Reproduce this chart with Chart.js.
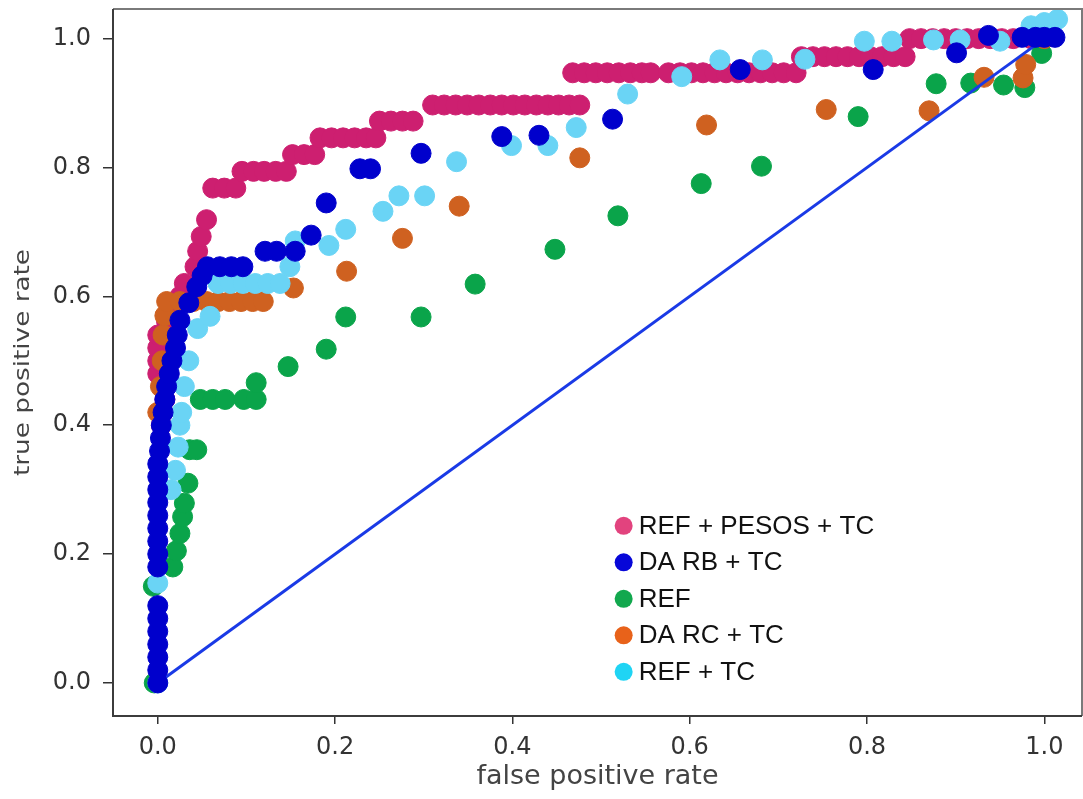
<!DOCTYPE html>
<html>
<head>
<meta charset="utf-8">
<script src="https://cdn.jsdelivr.net/npm/chart.js@4.4.1/dist/chart.umd.min.js"></script>
<style>
  body { margin: 0; background: #fff; overflow: hidden; }
</style>
</head>
<body>
<canvas id="chart" width="1083" height="799"></canvas>
<script>
const seriesNames = ["REF + PESOS + TC", "DA RB + TC", "REF", "DA RC + TC", "REF + TC"];

const refPesosTc = [
  [0.004, 0.40], [0.006, 0.42], [0.008, 0.44], [0.006, 0.46], [0.0, 0.48], [0.0, 0.50], [0.0, 0.52], [0.0, 0.54],
  [0.01, 0.56], [0.02, 0.58], [0.025, 0.60], [0.03, 0.62], [0.042, 0.646], [0.045, 0.67], [0.049, 0.693], [0.055, 0.719],
  [0.062, 0.768], [0.075, 0.768], [0.088, 0.768],
  [0.095, 0.794], [0.108, 0.794], [0.12, 0.794], [0.133, 0.794], [0.145, 0.794],
  [0.152, 0.82], [0.165, 0.82], [0.177, 0.82],
  [0.183, 0.846], [0.196, 0.846], [0.209, 0.846], [0.222, 0.846], [0.235, 0.846], [0.246, 0.846],
  [0.25, 0.872], [0.263, 0.872], [0.276, 0.872], [0.288, 0.872],
  [0.31, 0.897], [0.323, 0.897], [0.336, 0.897], [0.349, 0.897], [0.362, 0.897], [0.375, 0.897], [0.388, 0.897],
  [0.401, 0.897], [0.414, 0.897], [0.427, 0.897], [0.44, 0.897], [0.452, 0.897], [0.464, 0.897], [0.476, 0.897],
  [0.468, 0.947], [0.481, 0.947], [0.494, 0.947], [0.507, 0.947], [0.52, 0.947], [0.533, 0.947], [0.546, 0.947], [0.556, 0.947],
  [0.576, 0.947], [0.589, 0.947], [0.602, 0.947], [0.615, 0.947], [0.628, 0.947], [0.641, 0.947], [0.654, 0.947],
  [0.667, 0.947], [0.68, 0.947], [0.693, 0.947], [0.706, 0.947], [0.72, 0.947],
  [0.726, 0.972], [0.739, 0.972], [0.752, 0.972], [0.765, 0.972], [0.778, 0.972], [0.791, 0.972], [0.804, 0.972],
  [0.817, 0.972], [0.83, 0.972], [0.843, 0.972],
  [0.848, 1.0], [0.861, 1.0], [0.874, 1.0], [0.887, 1.0], [0.9, 1.0], [0.913, 1.0], [0.926, 1.0], [0.939, 1.0],
  [0.952, 1.0], [0.965, 1.0], [0.985, 1.0], [1.0, 1.0]
];

const daRbTc = [
  [0, 0], [0, 0.02], [0, 0.04], [0, 0.06], [0, 0.08], [0, 0.10], [0, 0.12],
  [0, 0.18], [0, 0.20], [0, 0.22], [0, 0.24], [0, 0.26], [0, 0.28], [0, 0.30], [0, 0.32], [0, 0.34],
  [0.002, 0.36], [0.003, 0.38], [0.004, 0.40], [0.006, 0.42], [0.008, 0.44], [0.01, 0.46], [0.013, 0.48],
  [0.016, 0.50], [0.02, 0.52], [0.022, 0.54], [0.025, 0.563], [0.035, 0.59], [0.044, 0.615], [0.05, 0.632],
  [0.056, 0.646], [0.07, 0.646], [0.083, 0.646], [0.096, 0.646],
  [0.121, 0.67], [0.134, 0.67], [0.155, 0.67], [0.173, 0.695], [0.19, 0.745], [0.228, 0.798], [0.24, 0.798],
  [0.297, 0.822], [0.388, 0.848], [0.43, 0.85], [0.513, 0.875], [0.657, 0.952], [0.807, 0.952], [0.901, 0.978],
  [0.937, 1.005], [0.975, 1.002], [0.99, 1.002], [1.0, 1.002], [1.012, 1.002]
];

const ref = [
  [-0.004, 0.0], [-0.005, 0.15], [0.017, 0.18], [0.021, 0.205], [0.025, 0.232], [0.028, 0.258], [0.03, 0.279],
  [0.034, 0.31], [0.036, 0.362], [0.044, 0.362],
  [0.048, 0.44], [0.062, 0.44], [0.076, 0.44], [0.097, 0.44], [0.111, 0.44], [0.111, 0.466],
  [0.147, 0.491], [0.19, 0.518], [0.212, 0.568], [0.297, 0.568], [0.358, 0.619], [0.448, 0.673], [0.519, 0.725],
  [0.613, 0.775], [0.681, 0.802], [0.79, 0.879], [0.878, 0.93], [0.917, 0.931], [0.954, 0.928], [0.978, 0.924],
  [0.997, 0.977], [1.0, 1.0]
];

const daRcTc = [
  [0.0, 0.42], [0.003, 0.46], [0.005, 0.50], [0.006, 0.54], [0.008, 0.57], [0.01, 0.592],
  [0.025, 0.592], [0.04, 0.592], [0.055, 0.592], [0.068, 0.592], [0.081, 0.592], [0.094, 0.592], [0.107, 0.592], [0.119, 0.592],
  [0.153, 0.613], [0.213, 0.639], [0.276, 0.69], [0.34, 0.74], [0.476, 0.815], [0.619, 0.866], [0.754, 0.89],
  [0.87, 0.888], [0.932, 0.94], [0.976, 0.939], [0.979, 0.96], [1.0, 1.0]
];

const refTc = [
  [0.0, 0.0], [0.0, 0.155], [0.015, 0.30], [0.02, 0.33], [0.023, 0.366], [0.025, 0.40], [0.027, 0.42], [0.03, 0.46],
  [0.035, 0.50], [0.045, 0.55], [0.059, 0.569],
  [0.068, 0.62], [0.082, 0.62], [0.096, 0.62], [0.11, 0.62], [0.124, 0.62], [0.138, 0.62],
  [0.149, 0.646], [0.155, 0.686], [0.193, 0.679], [0.212, 0.704], [0.254, 0.732], [0.272, 0.756], [0.301, 0.756],
  [0.337, 0.809], [0.399, 0.834], [0.44, 0.834], [0.472, 0.862], [0.53, 0.914], [0.591, 0.941], [0.634, 0.967],
  [0.682, 0.967], [0.73, 0.968], [0.797, 0.996], [0.828, 0.996], [0.875, 0.998], [0.905, 0.998], [0.95, 0.996],
  [0.985, 1.02], [1.0, 1.025], [1.015, 1.03]
];

const chanceLine = [[0, 0], [1, 1]];

const xTickValues = [0, 0.2, 0.4, 0.6, 0.8, 1.0];
const xTickLabels = ["0.0", "0.2", "0.4", "0.6", "0.8", "1.0"];
const yTickValues = [0, 0.2, 0.4, 0.6, 0.8, 1.0];
const yTickLabels = ["0.0", "0.2", "0.4", "0.6", "0.8", "1.0"];

const pointColors = ["#cd1f70", "#0000cc", "#0aa44a", "#cf6120", "#6ad4f5"];
const legendColors = ["#e2437e", "#0707d8", "#12a84e", "#e8621a", "#1fd4f4"];

const toXY = (rows) => rows.map(([x, y]) => ({ x, y }));

const scatterSet = (i, rows, order) => ({
  label: seriesNames[i],
  data: toXY(rows),
  backgroundColor: pointColors[i],
  borderColor: pointColors[i],
  borderWidth: 1,
  pointRadius: 10,
  order,
});

const extrasPlugin = {
  id: "extras",
  afterDatasetsDraw(chart) {
    const { ctx, chartArea: a } = chart;
    ctx.save();
    ctx.lineWidth = 2;
    ctx.strokeStyle = "#7a7a7a";
    ctx.beginPath();
    ctx.moveTo(a.left, a.top);
    ctx.lineTo(a.right, a.top);
    ctx.lineTo(a.right, a.bottom);
    ctx.stroke();
    ctx.strokeStyle = "#3c3c3c";
    ctx.beginPath();
    ctx.moveTo(a.left, a.top);
    ctx.lineTo(a.left, a.bottom);
    ctx.lineTo(a.right, a.bottom);
    ctx.stroke();

    // legend inside the plot, lower right
    const lx = a.left + 0.527 * (a.right - a.left);
    const ly = a.top + 0.731 * (a.bottom - a.top);
    ctx.font = "26px 'Liberation Sans', Arial, sans-serif";
    ctx.textBaseline = "middle";
    ctx.textAlign = "left";
    seriesNames.forEach((name, i) => {
      const y = ly + i * 36.5;
      ctx.fillStyle = legendColors[i];
      ctx.beginPath();
      ctx.arc(lx, y, 9, 0, Math.PI * 2);
      ctx.fill();
      ctx.fillStyle = "#111";
      ctx.fillText(name, lx + 15, y + 1);
    });

    // y axis title, drawn narrow like the original
    ctx.font = "21px 'DejaVu Sans', sans-serif";
    ctx.fillStyle = "#444";
    ctx.textAlign = "center";
    const label = "true positive rate";
    const w = ctx.measureText(label).width;
    ctx.translate(24, (a.top + a.bottom) / 2);
    ctx.rotate(-Math.PI / 2);
    ctx.scale(227 / w, 1);
    ctx.fillText(label, 0, 0);
    ctx.restore();
  },
};

const tickFont = { family: "'DejaVu Sans', sans-serif", size: 24 };

new Chart(document.getElementById("chart"), {
  type: "scatter",
  data: {
    datasets: [
      scatterSet(1, daRbTc, 0),
      {
        label: "chance",
        data: toXY(chanceLine),
        showLine: true,
        borderColor: "#1a3ae6",
        borderWidth: 3,
        pointRadius: 0,
        order: 1,
      },
      scatterSet(4, refTc, 2),
      scatterSet(3, daRcTc, 3),
      scatterSet(2, ref, 4),
      scatterSet(0, refPesosTc, 5),
    ],
  },
  options: {
    responsive: false,
    animation: false,
    events: [],
    devicePixelRatio: 1,
    layout: { autoPadding: false, padding: { top: 9, right: 1, left: 0, bottom: 0 } },
    plugins: { legend: { display: false }, tooltip: { enabled: false } },
    scales: {
      x: {
        type: "linear",
        min: -0.0505,
        max: 1.0425,
        afterBuildTicks: (scale) => { scale.ticks = xTickValues.map((v) => ({ value: v })); },
        afterFit: (scale) => {
          scale.height = 83;
          scale.paddingLeft = 0;
          scale.paddingRight = 0;
        },
        ticks: {
          font: tickFont,
          color: "#333",
          padding: 9,
          maxRotation: 0,
          callback: (v) => xTickLabels[xTickValues.indexOf(v)],
        },
        grid: { display: true, drawOnChartArea: false, drawTicks: true, tickLength: 8, color: "#333", lineWidth: 1.5 },
        border: { display: false },
        title: {
          display: true,
          text: "false positive rate",
          font: { family: "'DejaVu Sans', sans-serif", size: 27 },
          color: "#444",
          padding: { top: 0, bottom: 6 },
        },
      },
      y: {
        type: "linear",
        min: -0.0513,
        max: 1.046,
        afterBuildTicks: (scale) => { scale.ticks = yTickValues.map((v) => ({ value: v })); },
        afterFit: (scale) => {
          scale.width = 113;
          scale.paddingTop = 0;
          scale.paddingBottom = 0;
        },
        ticks: {
          font: tickFont,
          color: "#333",
          padding: 12,
          callback: (v) => yTickLabels[yTickValues.indexOf(v)],
        },
        grid: { display: true, drawOnChartArea: false, drawTicks: true, tickLength: 10, color: "#333", lineWidth: 1.5 },
        border: { display: false },
      },
    },
  },
  plugins: [extrasPlugin],
});
</script>
</body>
</html>
